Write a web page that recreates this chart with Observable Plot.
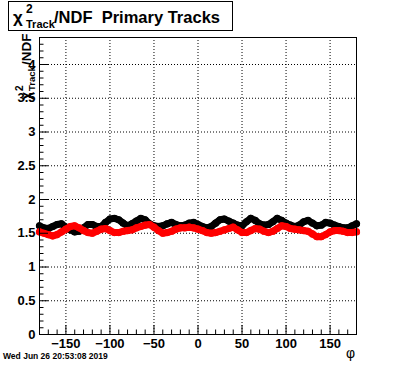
<!DOCTYPE html>
<html>
<head>
<meta charset="utf-8">
<script src="https://cdn.jsdelivr.net/npm/d3@7"></script>
<script src="https://cdn.jsdelivr.net/npm/@observablehq/plot@0.6"></script>
<style>
  html, body { margin: 0; padding: 0; background: white; }
  #chart { width: 396px; height: 372px; overflow: hidden; }
</style>
</head>
<body>
<div id="chart"></div>
<script>
// phi bins (degrees)
const phi = [
  -180,-175,-170,-165,-160,-155,-150,-145,-140,-135,-130,-125,-120,-115,-110,-105,-100,-95,-90,-85,
  -80,-75,-70,-65,-60,-55,-50,-45,-40,-35,-30,-25,-20,-15,-10,-5,0,5,10,15,20,25,30,35,40,45,50,55,60,
  65,70,75,80,85,90,95,100,105,110,115,120,125,130,135,140,145,150,155,160,165,170,175,180
];
// chi2/NDF, black series
const blackChi2 = [
  1.61,1.58,1.57,1.60,1.63,1.64,1.59,1.55,1.52,1.53,1.58,1.63,1.63,1.60,1.60,1.66,1.71,1.72,1.70,1.65,
  1.61,1.64,1.68,1.72,1.70,1.64,1.61,1.60,1.61,1.64,1.66,1.63,1.61,1.62,1.65,1.66,1.63,1.60,1.58,1.60,
  1.65,1.70,1.71,1.68,1.65,1.62,1.61,1.67,1.72,1.69,1.64,1.62,1.63,1.67,1.72,1.69,1.65,1.62,1.60,1.62,
  1.67,1.69,1.65,1.61,1.62,1.66,1.65,1.62,1.60,1.58,1.58,1.61,1.64
];
// chi2/NDF, red series
const redChi2 = [
  1.52,1.50,1.48,1.46,1.48,1.52,1.56,1.60,1.61,1.58,1.54,1.51,1.50,1.53,1.56,1.57,1.54,1.51,1.51,1.53,
  1.54,1.55,1.58,1.60,1.62,1.63,1.59,1.54,1.50,1.51,1.53,1.56,1.58,1.58,1.59,1.58,1.56,1.54,1.51,1.50,
  1.51,1.53,1.55,1.57,1.59,1.55,1.51,1.51,1.54,1.57,1.56,1.53,1.51,1.53,1.57,1.61,1.60,1.57,1.56,1.55,
  1.54,1.53,1.49,1.45,1.45,1.48,1.52,1.54,1.54,1.53,1.51,1.51,1.52
];
const xMajorTicks = [-150, -100, -50, 0, 50, 100, 150];
const xMinorTicks = [-170,-160,-140,-130,-120,-110,-90,-80,-70,-60,-40,-30,-20,-10,10,20,30,40,60,70,80,90,110,120,130,140,160,170];
const yMajorTicks = [0, 0.5, 1, 1.5, 2, 2.5, 3, 3.5, 4];
const yMinorTicks = [0.1,0.2,0.3,0.4,0.6,0.7,0.8,0.9,1.1,1.2,1.3,1.4,1.6,1.7,1.8,1.9,2.1,2.2,2.3,2.4,2.6,2.7,2.8,2.9,3.1,3.2,3.3,3.4,3.6,3.7,3.8,3.9,4.1,4.2,4.3,4.4];
const xDomain = [-180, 180];
const yDomain = [0, 4.4];

const black = phi.map((p, i) => ({phi: p, v: blackChi2[i]}));
const red = phi.map((p, i) => ({phi: p, v: redChi2[i]}));

const FONT = "'Liberation Sans', Arial, Helvetica, sans-serif";

const plot = Plot.plot({
  width: 396,
  height: 372,
  marginTop: 37,
  marginRight: 40,
  marginBottom: 38,
  marginLeft: 39,
  x: {domain: xDomain},
  y: {domain: yDomain},
  style: {fontFamily: FONT, fontSize: "13px", fontWeight: "bold", background: "white", color: "black"},
  marks: [
    Plot.gridX(xMajorTicks, {stroke: "black", strokeOpacity: 1, strokeDasharray: "1,2"}),
    Plot.gridY(yMajorTicks.slice(1), {stroke: "black", strokeOpacity: 1, strokeDasharray: "1,2"}),
    Plot.line(black, {x: "phi", y: "v", stroke: "black", strokeWidth: 7, strokeLinejoin: "round", strokeLinecap: "round"}),
    Plot.dot(black, {x: "phi", y: "v", r: 3.6, fill: "black", stroke: "none"}),
    Plot.line(red, {x: "phi", y: "v", stroke: "#ff0000", strokeWidth: 7, strokeLinejoin: "round", strokeLinecap: "round"}),
    Plot.dot(red, {x: "phi", y: "v", r: 3.6, fill: "#ff0000", stroke: "none"}),
    Plot.frame({stroke: "black", strokeWidth: 1}),
    Plot.axisX(xMajorTicks, {anchor: "bottom", tickSize: -9, tickPadding: 13, tickFormat: d3.format("d"), label: null}),
    Plot.axisX(xMinorTicks, {anchor: "bottom", tickSize: -4.5, tickFormat: () => "", label: null}),
    Plot.axisY(yMajorTicks, {anchor: "left", tickSize: -9, tickPadding: 13, tickFormat: d => String(d), label: null}),
    Plot.axisY(yMinorTicks, {anchor: "left", tickSize: -4.5, tickFormat: () => "", label: null})
  ]
});

document.getElementById("chart").appendChild(plot);

// Extra text: title box, axis titles, date stamp
const svg = d3.select(plot);
const ann = svg.append("g").attr("font-family", FONT).attr("fill", "black").attr("text-anchor", "start");

// Title box
ann.append("rect").attr("x", 8.5).attr("y", 1.5).attr("width", 224).attr("height", 29)
  .attr("fill", "white").attr("stroke", "black").attr("stroke-width", 1);
const t = ann.append("text").attr("font-weight", "bold").attr("text-anchor", "start").attr("xml:space", "preserve");
t.append("tspan").attr("x", 13).attr("y", 23).attr("font-size", 17).text("χ");
t.append("tspan").attr("x", 26).attr("y", 13).attr("font-size", 12).text("2");
t.append("tspan").attr("x", 26).attr("y", 28).attr("font-size", 11).text("Track");
t.append("tspan").attr("x", 54).attr("y", 23).attr("font-size", 16.5).text("/NDF  Primary Tracks");

// Y axis title (rotated)
const yt = ann.append("g").attr("transform", "translate(31,100) rotate(-90)")
  .append("text").attr("font-weight", "bold").attr("text-anchor", "start");
yt.append("tspan").attr("x", 0).attr("y", 0).attr("font-size", 14).text("χ");
yt.append("tspan").attr("x", 9).attr("y", -8).attr("font-size", 10).text("2");
yt.append("tspan").attr("x", 9).attr("y", 4).attr("font-size", 9.5).text("Track");
yt.append("tspan").attr("x", 35).attr("y", 0).attr("font-size", 13.5).text("/NDF");

// X axis title
ann.append("text").attr("x", 355).attr("y", 358).attr("text-anchor", "end")
  .attr("font-size", 14).attr("font-weight", "normal").text("φ");

// Date stamp
ann.append("text").attr("x", 3).attr("y", 359).attr("font-size", 8.5).attr("font-weight", "bold")
  .attr("text-anchor", "start").text("Wed Jun 26 20:53:08 2019");
</script>
</body>
</html>
